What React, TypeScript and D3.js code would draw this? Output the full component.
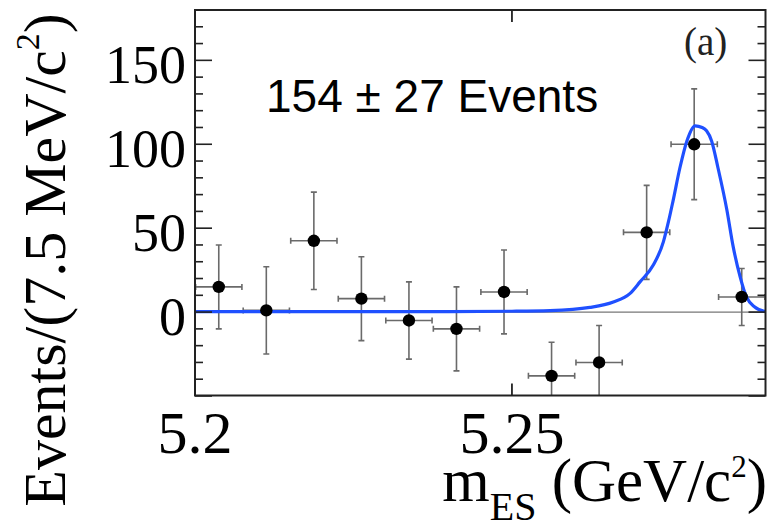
import React from "react";
import * as d3 from "d3";

const binCenters = [5.20375, 5.21125, 5.21875, 5.22625, 5.23375, 5.24125, 5.24875, 5.25625, 5.26375, 5.27125, 5.27875, 5.28625];
const counts = [15, 1, 42.5, 8, -5, -10, 12, -38, -30, 47.5, 100, 9];
const errors = [25, 26, 29, 25, 23, 25, 25, 20, 22, 28, 33, 17];
const halfBin = 0.00365;

const fitMass = [5.2, 5.24, 5.25, 5.256, 5.2623, 5.266, 5.2686, 5.2702, 5.2723, 5.2739, 5.2747, 5.2754, 5.2765, 5.2776, 5.2789, 5.28, 5.2807, 5.2815, 5.2825, 5.2839, 5.2849, 5.286, 5.287, 5.2883, 5.29];
const fitValue = [0.3, 0.3, 0.5, 0.9, 2.8, 6, 11, 18, 28, 42, 54, 66, 86, 102, 111, 110, 108, 102, 86, 61, 39, 21, 9, 3, 0.3];

const yMajor = [-50, 0, 50, 100, 150];
const yLabels = [0, 50, 100, 150];
const yMinor = d3.range(-50, 181, 10);
const xMajor = [5.2, 5.25];
const xLabels = ["5.2", "5.25"];

export default function App() {
  const L = 195, R = 765.5, T = 10, B = 395.5;
  const x = d3.scaleLinear().domain([5.2, 5.29]).range([L, R]);
  const y = d3.scaleLinear().domain([-49.7, 180]).range([B, T]);
  const line = d3
    .line<number>()
    .x((_, i) => x(fitMass[i]))
    .y((d) => y(d))
    .curve(d3.curveMonotoneX);
  const serif = "'Liberation Serif', 'Times New Roman', serif";
  const errColor = "#6a6a6a";
  const cap = 3;
  return (
    <svg width={768} height={530} style={{ position: "absolute", left: 0, top: 0, background: "#fff" }}>
      <defs>
        <clipPath id="plotclip">
          <rect x={L} y={T} width={R - L} height={B - T} />
        </clipPath>
      </defs>
      <line x1={L} x2={R} y1={y(0)} y2={y(0)} stroke="#777" strokeWidth={1.2} />
      <g clipPath="url(#plotclip)">
        {binCenters.map((c, i) => {
          const cx = x(c);
          const cy = y(counts[i]);
          const x0 = x(c - halfBin), x1 = x(c + halfBin);
          const y0 = y(counts[i] - errors[i]), y1 = y(counts[i] + errors[i]);
          return (
            <g key={i} stroke={errColor} strokeWidth={1.6}>
              <line x1={cx} x2={cx} y1={y0} y2={y1} />
              <line x1={cx - cap} x2={cx + cap} y1={y0} y2={y0} />
              <line x1={cx - cap} x2={cx + cap} y1={y1} y2={y1} />
              <line x1={x0} x2={x1} y1={cy} y2={cy} />
              <line x1={x0} x2={x0} y1={cy - cap} y2={cy + cap} />
              <line x1={x1} x2={x1} y1={cy - cap} y2={cy + cap} />
            </g>
          );
        })}
        <path d={line(fitValue) || ""} fill="none" stroke="#1f50ff" strokeWidth={3.2} />
        {binCenters.map((c, i) => (
          <circle key={i} cx={x(c)} cy={y(counts[i])} r={6.2} fill="#000" />
        ))}
      </g>
      <rect x={L} y={T} width={R - L} height={B - T} fill="none" stroke="#222" strokeWidth={2} />
      {yMinor.map((v) => {
        const major = yMajor.includes(v);
        const len = major ? 17 : 8;
        return (
          <g key={v} stroke="#222" strokeWidth={1.6}>
            <line x1={L} x2={L + len} y1={y(v)} y2={y(v)} />
            <line x1={R} x2={R - len} y1={y(v)} y2={y(v)} />
          </g>
        );
      })}
      {xMajor.map((v) => (
        <g key={v} stroke="#222" strokeWidth={1.8}>
          <line x1={x(v)} x2={x(v)} y1={B} y2={B - 12} />
          <line x1={x(v)} x2={x(v)} y1={T} y2={T + 12} />
        </g>
      ))}
      {yLabels.map((v) => (
        <text key={v} x={186} y={y(v) + 23} textAnchor="end" fontFamily={serif} fontSize={54} fill="#000">
          {v}
        </text>
      ))}
      {xMajor.map((v, i) => (
        <text key={v} x={x(v)} y={453} textAnchor="middle" fontFamily={serif} fontSize={60} fill="#000">
          {xLabels[i]}
        </text>
      ))}
      <text x={767} y={501} textAnchor="end" fontFamily={serif} fontSize={61} fill="#000">
        m<tspan fontSize={40} dy={19}>ES</tspan>
        <tspan dy={-19}> (GeV/c</tspan>
        <tspan fontSize={31} dy={-24}>2</tspan>
        <tspan dy={24}>)</tspan>
      </text>
      <text
        transform="translate(65,260) rotate(-90)"
        textAnchor="middle"
        fontFamily={serif}
        fontSize={60}
        fill="#000"
      >
        Events/(7.5 MeV/c<tspan fontSize={34} dy={-26}>2</tspan>
        <tspan dy={26}>)</tspan>
      </text>
      <text x={266} y={112} fontFamily="'Liberation Sans', Arial, sans-serif" fontSize={46} fill="#000">
        154 ± 27 Events
      </text>
      <text x={684} y={55} fontFamily={serif} fontSize={39} fill="#222">
        (a)
      </text>
    </svg>
  );
}
